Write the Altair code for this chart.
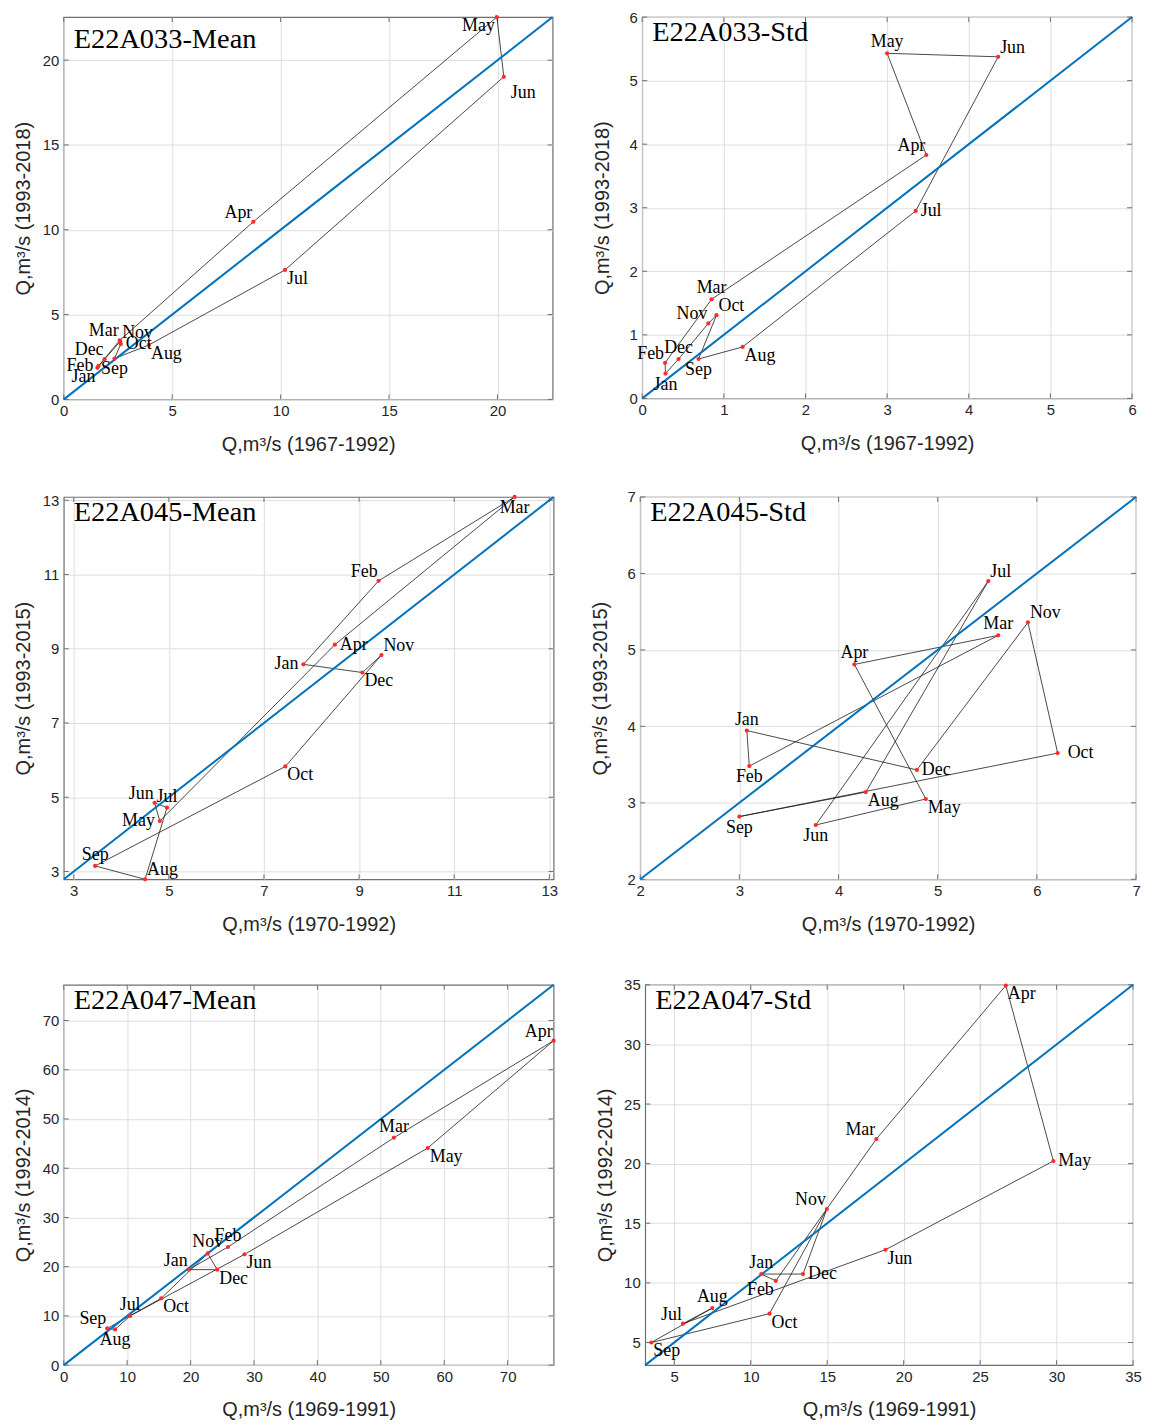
import altair as alt
import pandas as pd

months = ["Jan", "Feb", "Mar", "Apr", "May", "Jun", "Jul", "Aug", "Sep", "Oct", "Nov", "Dec"]

titles = ["E22A033-Mean", "E22A033-Std", "E22A045-Mean", "E22A045-Std", "E22A047-Mean", "E22A047-Std"]
x_titles = ["Q,m³/s (1967-1992)", "Q,m³/s (1967-1992)", "Q,m³/s (1970-1992)",
            "Q,m³/s (1970-1992)", "Q,m³/s (1969-1991)", "Q,m³/s (1969-1991)"]
y_titles = ["Q,m³/s (1993-2018)", "Q,m³/s (1993-2018)", "Q,m³/s (1993-2015)",
            "Q,m³/s (1993-2015)", "Q,m³/s (1992-2014)", "Q,m³/s (1992-2014)"]
limits = [[0, 22.54], [0, 6], [2.79, 13.09], [2, 7], [0, 77.25], [3.1, 35]]
tick_values = [[0, 5, 10, 15, 20], [0, 1, 2, 3, 4, 5, 6], [3, 5, 7, 9, 11, 13],
               [2, 3, 4, 5, 6, 7], [0, 10, 20, 30, 40, 50, 60, 70], [5, 10, 15, 20, 25, 30, 35]]

# E22A033 mean
a033_mean_x = [1.55, 1.60, 2.58, 8.74, 19.97, 20.29, 10.20, 3.93, 2.34, 2.63, 2.60, 1.88]
a033_mean_y = [1.86, 1.97, 3.48, 10.47, 22.54, 19.02, 7.63, 3.21, 2.41, 3.26, 3.41, 2.37]
# E22A033 std
a033_std_x = [0.285, 0.28, 0.85, 3.48, 3.00, 4.36, 3.35, 1.23, 0.69, 0.91, 0.81, 0.445]
a033_std_y = [0.39, 0.56, 1.56, 3.83, 5.43, 5.375, 2.95, 0.81, 0.62, 1.31, 1.18, 0.62]
# E22A045 mean
a045_mean_x = [7.83, 9.41, 12.27, 8.49, 4.81, 4.70, 4.96, 4.50, 3.45, 7.45, 9.47, 9.07]
a045_mean_y = [8.58, 10.83, 13.09, 9.11, 4.36, 4.85, 4.72, 2.79, 3.15, 5.83, 8.83, 8.36]
# E22A045 std
a045_std_x = [3.075, 3.10, 5.61, 4.16, 4.88, 3.77, 5.51, 4.275, 3.00, 6.21, 5.91, 4.79]
a045_std_y = [3.945, 3.48, 5.19, 4.81, 3.05, 2.71, 5.90, 3.14, 2.82, 3.65, 5.36, 3.43]
# E22A047 mean
a047_mean_x = [19.7, 25.9, 52.07, 77.25, 57.4, 28.5, 10.47, 8.09, 6.86, 15.36, 22.7, 24.2]
a047_mean_y = [19.4, 24.0, 46.2, 65.9, 44.1, 22.5, 10.0, 7.25, 7.45, 13.57, 22.7, 19.4]
# E22A047 std
a047_std_x = [10.69, 11.64, 18.21, 26.68, 29.79, 18.81, 5.57, 7.49, 3.5, 11.23, 14.98, 13.42]
a047_std_y = [10.74, 10.17, 22.06, 34.94, 20.22, 12.78, 6.58, 7.89, 5.0, 7.42, 16.19, 10.74]

# label placement (compass direction from the point)
place_033_mean = ["sw", "w", "nw", "nw", "sw", "se+", "se", "se", "s", "e", "ne", "nw"]
place_033_std = ["s", "nw", "n", "nw", "n", "ne", "e", "se", "s", "ne", "nw", "n"]
place_045_mean = ["w", "nw", "s", "e", "w", "nw", "n", "ne", "n", "se", "ne", "se"]
place_045_std = ["n", "s", "n", "n", "se", "s", "ne", "se", "s", "e+", "ne", "e"]
place_047_mean = ["nw", "n", "n", "nw", "se", "se", "n", "s", "nw", "se", "n", "se"]
place_047_std = ["n", "sw", "nw", "se", "e", "se", "nw", "n", "se", "se", "nw", "e"]

placement_style = {
    "n": dict(align="center", baseline="bottom", dx=0, dy=-2),
    "s": dict(align="center", baseline="top", dx=0, dy=2),
    "e": dict(align="left", baseline="middle", dx=5, dy=0),
    "e+": dict(align="left", baseline="middle", dx=10, dy=0),
    "w": dict(align="right", baseline="middle", dx=-5, dy=0),
    "ne": dict(align="left", baseline="bottom", dx=2, dy=0),
    "nw": dict(align="right", baseline="bottom", dx=-1, dy=0),
    "se": dict(align="left", baseline="top", dx=2, dy=0),
    "se+": dict(align="left", baseline="top", dx=7, dy=7),
    "sw": dict(align="right", baseline="top", dx=-2, dy=0),
}

panels = [
    (a033_mean_x, a033_mean_y, place_033_mean, 491, 384, 31),
    (a033_std_x, a033_std_y, place_033_std, 492, 383, 24),
    (a045_mean_x, a045_mean_y, place_045_mean, 492, 384, 24),
    (a045_std_x, a045_std_y, place_045_std, 498, 384, 24),
    (a047_mean_x, a047_mean_y, place_047_mean, 492, 382, 24),
    (a047_std_x, a047_std_y, place_047_std, 490, 382, 24),
]

SERIF = "Liberation Serif"
SANS = "Liberation Sans"
FRAME = "#6e6e6e"
TICK_LEN = 5


def make_panel(i):
    xs, ys, place, w, h, ty = panels[i]
    lo, hi = limits[i]
    df = pd.DataFrame({"month": months, "x": xs, "y": ys, "place": place,
                       "order": list(range(12))})
    loop = pd.concat([df, df.iloc[[0]].assign(order=12)], ignore_index=True)
    diag = pd.DataFrame({"x": [lo, hi], "y": [lo, hi]})
    tk = pd.DataFrame({"x": tick_values[i], "y": tick_values[i]})

    xsc = alt.Scale(domain=[lo, hi], nice=False, zero=False)
    ysc = alt.Scale(domain=[lo, hi], nice=False, zero=False)
    xax = alt.Axis(values=tick_values[i], title=x_titles[i], titlePadding=16,
                   minExtent=19, maxExtent=19, labelPadding=4, labelFlush=False)
    yax = alt.Axis(values=tick_values[i], title=y_titles[i], titlePadding=7,
                   minExtent=23, maxExtent=23, labelPadding=5, labelFlush=False)
    X = alt.X("x:Q", scale=xsc, axis=xax)
    Y = alt.Y("y:Q", scale=ysc, axis=yax)

    # inward tick marks on all four sides of the box
    tick_base = alt.Chart(tk).mark_rule(color=FRAME, strokeWidth=1)
    ticks = [
        tick_base.encode(x=X, y=alt.value(h), y2=alt.value(h - TICK_LEN)),
        tick_base.encode(x=X, y=alt.value(0), y2=alt.value(TICK_LEN)),
        tick_base.encode(y=Y, x=alt.value(0), x2=alt.value(TICK_LEN)),
        tick_base.encode(y=Y, x=alt.value(w), x2=alt.value(w - TICK_LEN)),
    ]

    path = alt.Chart(loop).mark_line(color="#1a1a1a", strokeWidth=0.8).encode(
        x=X, y=Y, order="order:Q")
    dline = alt.Chart(diag).mark_line(color="#0072BD", strokeWidth=2).encode(x=X, y=Y)
    pts = alt.Chart(df).mark_circle(size=18, color="#ff2a2a", opacity=1).encode(x=X, y=Y)

    layers = ticks + [path, dline, pts]
    for code, st in placement_style.items():
        if code not in place:
            continue
        layers.append(
            alt.Chart(df).transform_filter(alt.datum.place == code).mark_text(
                font=SERIF, fontSize=18, color="black", **st
            ).encode(x=X, y=Y, text="month:N")
        )
    ttl = alt.Chart(pd.DataFrame({"t": [titles[i]]})).mark_text(
        font=SERIF, fontSize=28.5, color="black", align="left", baseline="alphabetic"
    ).encode(x=alt.value(10), y=alt.value(ty), text="t:N")
    layers.append(ttl)
    return alt.layer(*layers).properties(width=w, height=h)


row1 = alt.hconcat(make_panel(0), make_panel(1), spacing=90, bounds="flush")
row2 = alt.hconcat(make_panel(2), make_panel(3), spacing=87, bounds="flush")
row3 = alt.hconcat(make_panel(4), make_panel(5), spacing=92, bounds="flush")

top_rows = alt.vconcat(row1, row2, spacing=34)

chart = alt.vconcat(top_rows, row3, spacing=42).properties(
    padding={"left": 5, "top": -2, "right": 2, "bottom": 2}
).configure_view(
    stroke=FRAME, strokeWidth=1.2
).configure_axis(
    grid=True, gridColor="#dedede", gridWidth=1, domain=False, ticks=False,
    labelFont=SANS, labelFontSize=15, labelColor="#262626",
    titleFont=SANS, titleFontSize=20, titleFontWeight="normal", titleColor="#262626"
)

chart.save("out.html", embed_options={"renderer": "svg", "actions": False})
